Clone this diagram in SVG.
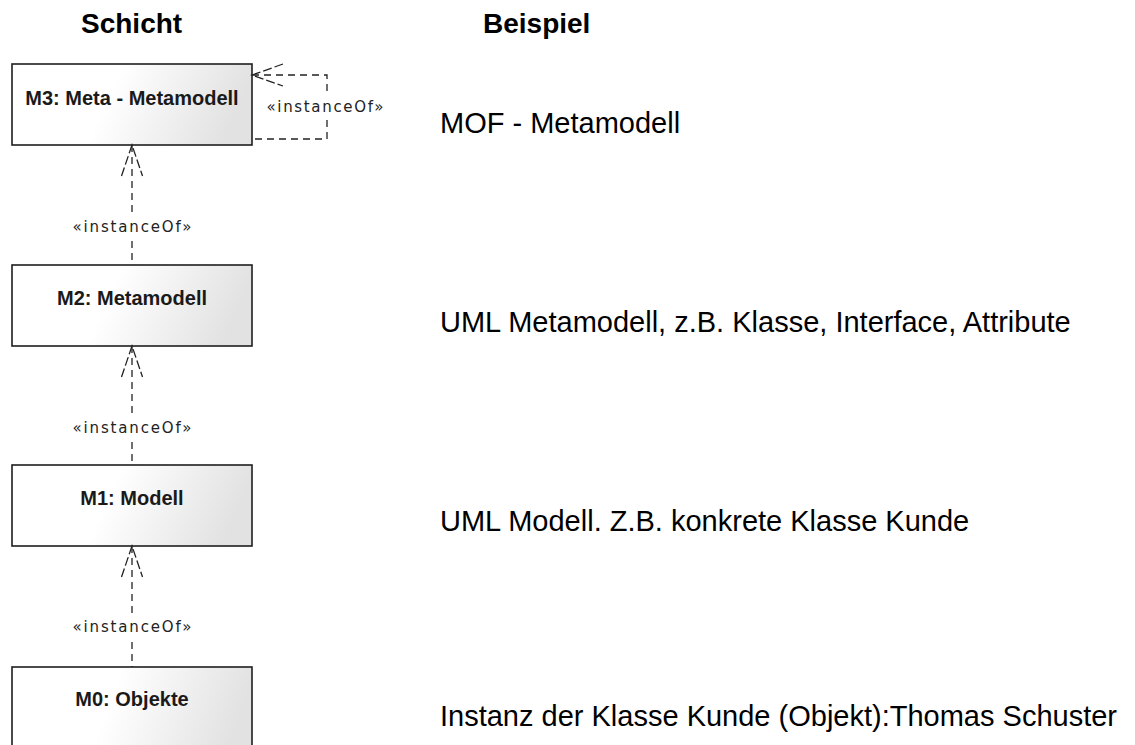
<svg xmlns="http://www.w3.org/2000/svg" width="1135" height="745" viewBox="0 0 1135 745">
  <style>
    .head { font-family: "Liberation Sans", Arial, sans-serif; font-weight: bold; font-size: 28px; fill: #000; }
    .desc { font-family: "Liberation Sans", Arial, sans-serif; font-size: 29px; fill: #000; }
    .box { fill: url(#boxFill); stroke: #1e1e1e; stroke-width: 1.6; }
    .name { font-family: "Liberation Sans", Arial, sans-serif; font-weight: bold; font-size: 20px; fill: #1a1a1a; text-anchor: middle; }
    .dep { fill: none; stroke: #222; stroke-width: 1.3; stroke-dasharray: 7 5; }
    .head-v { fill: none; stroke: #222; stroke-width: 1.3; stroke-dasharray: 9 3; }
    .lbl { font-family: "DejaVu Sans", Verdana, sans-serif; font-size: 15px; fill: #222; text-anchor: middle; }
    .lblbg { fill: #fff; }
  </style>
  <defs>
    <linearGradient id="boxFill" x1="0" y1="0" x2="1" y2="0.15">
      <stop offset="0" stop-color="#ffffff"/>
      <stop offset="0.45" stop-color="#ffffff"/>
      <stop offset="1" stop-color="#e2e2e2"/>
    </linearGradient>
  </defs>

  <rect width="1135" height="745" fill="#fff"/>

  <!-- column headings -->
  <g id="headings">
    <text class="head" x="81" y="33">Schicht</text>
    <text class="head" x="483" y="33">Beispiel</text>
  </g>

  <!-- layer boxes -->
  <g id="m3">
    <rect class="box" x="12" y="64" width="240" height="81"/>
    <text class="name" x="132" y="105">M3: Meta - Metamodell</text>
  </g>
  <g id="m2">
    <rect class="box" x="12" y="265" width="240" height="81"/>
    <text class="name" x="132" y="305">M2: Metamodell</text>
  </g>
  <g id="m1">
    <rect class="box" x="12" y="465" width="240" height="81"/>
    <text class="name" x="132" y="505">M1: Modell</text>
  </g>
  <g id="m0">
    <rect class="box" x="12" y="667" width="240" height="100"/>
    <text class="name" x="132" y="706">M0: Objekte</text>
  </g>

  <!-- instanceOf dependencies -->
  <g id="connectors">
    <!-- M3 instanceOf M3 (self loop) -->
    <path class="dep" d="M252,75 H327 V139 H252"/>
    <path class="head-v" d="M283,64 L252,75 L283,86"/>
    <rect class="lblbg" x="266" y="94" width="118" height="22"/>
    <text class="lbl" x="325" y="112" textLength="117" lengthAdjust="spacing">«instanceOf»</text>

    <!-- M2 instanceOf M3 -->
    <path class="dep" d="M132,145 V265"/>
    <path class="head-v" d="M121.5,176 L132,145 L142.5,176"/>
    <rect class="lblbg" x="72" y="216" width="120" height="22"/>
    <text class="lbl" x="132" y="232" textLength="119" lengthAdjust="spacing">«instanceOf»</text>

    <!-- M1 instanceOf M2 -->
    <path class="dep" d="M132,346 V465"/>
    <path class="head-v" d="M121.5,377 L132,346 L142.5,377"/>
    <rect class="lblbg" x="72" y="417" width="120" height="22"/>
    <text class="lbl" x="132" y="433" textLength="119" lengthAdjust="spacing">«instanceOf»</text>

    <!-- M0 instanceOf M1 -->
    <path class="dep" d="M132,546 V667"/>
    <path class="head-v" d="M121.5,577 L132,546 L142.5,577"/>
    <rect class="lblbg" x="72" y="616" width="120" height="22"/>
    <text class="lbl" x="132" y="632" textLength="119" lengthAdjust="spacing">«instanceOf»</text>
  </g>

  <!-- examples per layer -->
  <g id="examples">
    <text class="desc" x="440" y="133">MOF - Metamodell</text>
    <text class="desc" x="440" y="332">UML Metamodell, z.B. Klasse, Interface, Attribute</text>
    <text class="desc" x="440" y="531">UML Modell. Z.B. konkrete Klasse Kunde</text>
    <text class="desc" x="440" y="726">Instanz der Klasse Kunde (Objekt):Thomas Schuster</text>
  </g>
</svg>
